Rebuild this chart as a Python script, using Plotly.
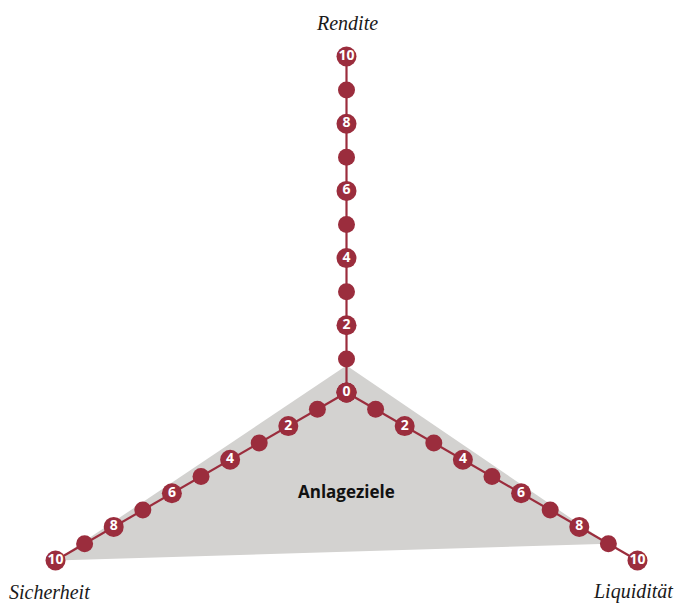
import math
import plotly.graph_objects as go

# Data
axis_names = ["Rendite", "Sicherheit", "Liquidität"]
axis_angles = [90, 210, 330]          # degrees
scale_values = list(range(0, 11))     # 0..10 on each axis
profile_values = [0.8, 10, 9]          # Rendite, Sicherheit, Liquidität
center_label = "Anlageziele"

RED = "#9b2d3d"
GRAY = "#d3d2d0"


def pos(r, ang):
    a = math.radians(ang)
    return r * math.cos(a), r * math.sin(a)


fig = go.Figure()

# Filled profile triangle
px, py = [], []
for v, ang in zip(profile_values, axis_angles):
    x, y = pos(v, ang)
    px.append(x)
    py.append(y)
px.append(px[0])
py.append(py[0])
fig.add_trace(go.Scatter(x=px, y=py, mode="lines", fill="toself",
                         fillcolor=GRAY, line=dict(width=0, color=GRAY),
                         hoverinfo="skip", showlegend=False))

# Axis lines and dots
for name, ang in zip(axis_names, axis_angles):
    xs, ys = zip(*[pos(v, ang) for v in scale_values])
    fig.add_trace(go.Scatter(x=list(xs), y=list(ys), mode="lines",
                             line=dict(color=RED, width=2.2),
                             hoverinfo="skip", showlegend=False))
    odd = [v for v in scale_values if v % 2 == 1]
    ox, oy = zip(*[pos(v, ang) for v in odd])
    fig.add_trace(go.Scatter(x=list(ox), y=list(oy), mode="markers",
                             marker=dict(size=17, color=RED, line=dict(width=0)),
                             hoverinfo="skip", showlegend=False))
    even = [v for v in scale_values if v % 2 == 0]
    ex, ey = zip(*[pos(v, ang) for v in even])
    fig.add_trace(go.Scatter(x=list(ex), y=list(ey), mode="markers+text",
                             text=[str(v) for v in even],
                             textposition="middle center",
                             textfont=dict(family="Open Sans", size=14, color="white",
                                           weight="bold"),
                             marker=dict(size=20, color=RED, line=dict(width=0)),
                             hoverinfo="skip", showlegend=False))

# Axis titles
title_font = dict(family="Liberation Serif", size=20, color="#1a1a1a", style="italic")
fig.add_annotation(x=0, y=pos(10, 90)[1], yshift=34, text="Rendite",
                   showarrow=False, font=title_font, xanchor="center", yanchor="middle")
sx, sy = pos(10, 210)
fig.add_annotation(x=sx, y=sy, xshift=-6, yshift=-31, text="Sicherheit",
                   showarrow=False, font=title_font, xanchor="center", yanchor="middle")
lx, ly = pos(10, 330)
fig.add_annotation(x=lx, y=ly, xshift=38, yshift=-31, text="Liquidität",
                   showarrow=False, font=title_font, xanchor="right", yanchor="middle")

fig.add_annotation(x=0, y=-2.95, text="<b>" + center_label + "</b>", showarrow=False,
                   font=dict(family="Open Sans", size=17, color="#111111"))

unit = 33.6
cx, cy = 338.5, 384.5   # compensate page body margin
W, H = 674, 597
fig.update_layout(
    width=W, height=H,
    margin=dict(l=0, r=0, t=0, b=0),
    paper_bgcolor="white", plot_bgcolor="white",
    xaxis=dict(range=[-cx / unit, (W - cx) / unit], visible=False, fixedrange=True),
    yaxis=dict(range=[-(H - cy) / unit, cy / unit], visible=False, fixedrange=True),
    showlegend=False,
)

fig.write_html("out.html")
